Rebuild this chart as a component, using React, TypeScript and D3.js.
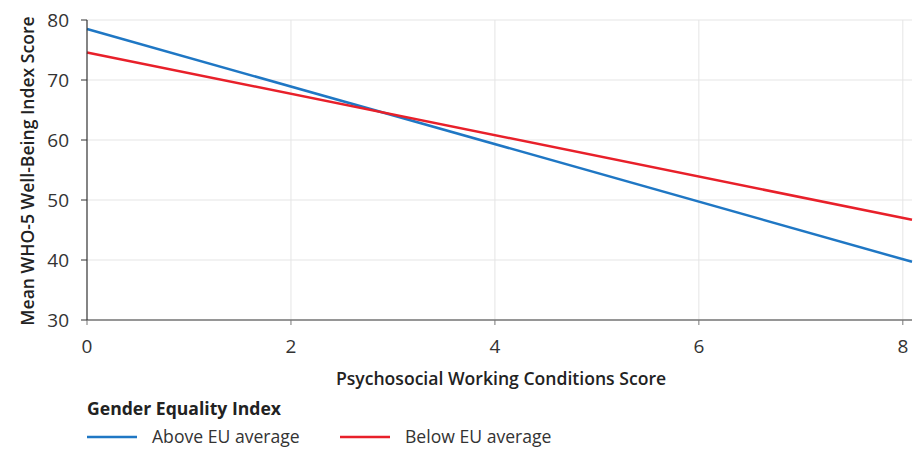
import React from "react";
import * as d3 from "d3";

const xTicks = [0, 2, 4, 6, 8];
const yTicks = [30, 40, 50, 60, 70, 80];
const seriesNames = ["Above EU average", "Below EU average"];
const seriesColors = ["#1f77c4", "#e8202a"];
const xPoints = [0, 8.09];
const aboveValues = [78.5, 39.7];
const belowValues = [74.6, 46.7];
const xTitle = "Psychosocial Working Conditions Score";
const yTitle = "Mean WHO-5 Well-Being Index Score";
const legendTitle = "Gender Equality Index";

export default function App() {
  const W = 913, H = 450;
  const left = 87, right = 912, top = 20, bottom = 320;
  const x = d3.scaleLinear().domain([0, 8.09]).range([left, right]);
  const y = d3.scaleLinear().domain([30, 80]).range([bottom, top]);
  const line = d3.line<[number, number]>().x(d => x(d[0])).y(d => y(d[1]));
  const series = [aboveValues, belowValues];
  const font = "'Open Sans', 'Noto Sans', sans-serif";
  return (
    <svg width={W} height={H} style={{ position: "absolute", left: 0, top: 0, fontFamily: font }}>
      {yTicks.map(t => (
        <line key={"gy" + t} x1={left} x2={right} y1={y(t)} y2={y(t)} stroke="#e5e5e5" strokeWidth={1} />
      ))}
      {xTicks.filter(t => t > 0).map(t => (
        <line key={"gx" + t} x1={x(t)} x2={x(t)} y1={top} y2={bottom} stroke="#e5e5e5" strokeWidth={1} />
      ))}
      {series.map((vals, i) => (
        <path key={i} d={line(xPoints.map((xv, j) => [xv, vals[j]]) as [number, number][]) || ""}
          fill="none" stroke={seriesColors[i]} strokeWidth={2.5} />
      ))}
      <line x1={left} x2={right} y1={bottom} y2={bottom} stroke="#777" strokeWidth={1.5} />
      {xTicks.map(t => (
        <g key={"xt" + t}>
          <line x1={x(t)} x2={x(t)} y1={bottom} y2={bottom + 5} stroke="#777" strokeWidth={1} />
          <text x={x(t)} y={bottom + 33} textAnchor="middle" fontSize={19} fill="#333">{t}</text>
        </g>
      ))}
      <line x1={left} x2={left} y1={top} y2={bottom} stroke="#333" strokeWidth={1.2} />
      {yTicks.map(t => (
        <g key={"yt" + t}>
          <line x1={left - 6} x2={left} y1={y(t)} y2={y(t)} stroke="#333" strokeWidth={1} />
          <text x={left - 18} y={y(t) + 7} textAnchor="end" fontSize={19} fill="#333">{t}</text>
        </g>
      ))}
      <text x={501} y={385} textAnchor="middle" fontSize={17.6} fontWeight={600} fill="#222">{xTitle}</text>
      <text transform={`translate(34,${(top + bottom) / 2 + 1}) rotate(-90)`} textAnchor="middle" fontSize={17.6} fontWeight={600} fill="#222">{yTitle}</text>
      <text x={87} y={415} fontSize={17.6} fontWeight={700} fill="#222">{legendTitle}</text>
      {seriesNames.map((n, i) => {
        const lx = 87 + i * 253;
        return (
          <g key={n}>
            <line x1={lx} x2={lx + 50} y1={437} y2={437} stroke={seriesColors[i]} strokeWidth={2.5} />
            <text x={lx + 65} y={443} fontSize={17.6} fill="#333">{n}</text>
          </g>
        );
      })}
    </svg>
  );
}
